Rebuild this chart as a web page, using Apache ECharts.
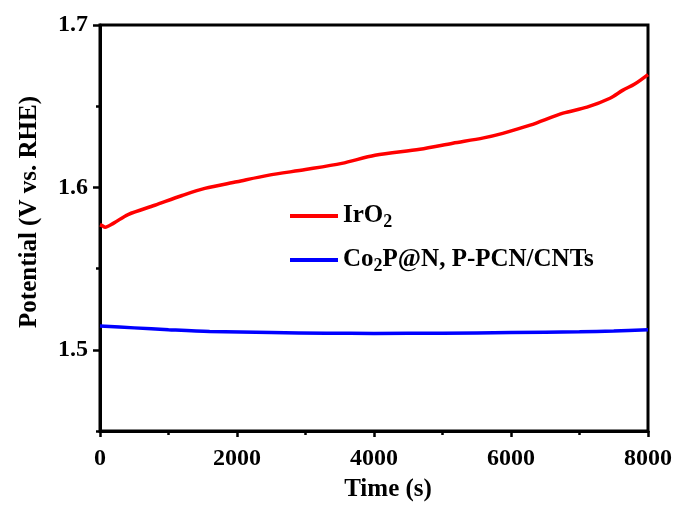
<!DOCTYPE html>
<html>
<head>
<meta charset="utf-8">
<script src="https://cdn.jsdelivr.net/npm/echarts@6/dist/echarts.min.js"></script>
<style>html,body{margin:0;padding:0;background:#fff}#c{width:676px;height:506px}</style>
</head>
<body>
<div id="c"></div>
<script>
var irTime = [0, 30, 75, 200, 410, 800, 1200, 1530, 2000, 2450, 3000, 3530, 4015, 4670, 5150, 5600, 5880, 6280, 6760, 7110, 7445, 7635, 7800, 8000];
var irV = [1.577, 1.5765, 1.5755, 1.578, 1.5833, 1.589, 1.595, 1.5994, 1.6035, 1.6074, 1.611, 1.6148, 1.6198, 1.6235, 1.6272, 1.6305, 1.6333, 1.6383, 1.6457, 1.6494, 1.6549, 1.6599, 1.6635, 1.6695];
var coTime = [0, 500, 1000, 1600, 2500, 3300, 4000, 5000, 6000, 7000, 7500, 8000];
var coV = [1.5146, 1.5135, 1.5124, 1.5113, 1.5106, 1.5102, 1.5101, 1.5102, 1.5106, 1.5111, 1.5116, 1.5123];
var xTicks = [0, 2000, 4000, 6000, 8000];
var yLabels = [1.5, 1.6, 1.7];
var yMinorTicks = [1.45, 1.55, 1.65];

function pairs(a, b) { return a.map(function (v, i) { return [v, b[i]]; }); }

var font = '"Liberation Serif", "Times New Roman", serif';
var chart = echarts.init(document.getElementById('c'));
chart.setOption({
  animation: false,
  grid: { left: 100, right: 28, top: 25, bottom: 75, show: true, borderColor: '#000', borderWidth: 3, outerBoundsMode: 'none', containLabel: false },
  legend: {
    orient: 'vertical', left: 285, top: 196, itemGap: 14,
    icon: 'rect', itemWidth: 48, itemHeight: 4,
    data: ['IrO2', 'Co2P'],
    formatter: function (n) {
      return n === 'IrO2' ? '{b|IrO}{s|2}' : '{b|Co}{s|2}{b|P@N, P-PCN/CNTs}';
    },
    textStyle: {
      fontFamily: font, fontWeight: 'bold', fontSize: 25, color: '#000',
      rich: {
        b: { fontFamily: font, fontWeight: 'bold', fontSize: 25, color: '#000', lineHeight: 29 },
        s: { fontFamily: font, fontWeight: 'bold', fontSize: 18, color: '#000', lineHeight: 29, padding: [12, 0, 0, 0] }
      }
    }
  },
  xAxis: {
    type: 'value', min: 0, max: 8000, interval: 2000,
    name: 'Time (s)', nameLocation: 'middle', nameGap: 46,
    nameTextStyle: { fontFamily: font, fontWeight: 'bold', fontSize: 25, color: '#000', padding: [0, 0, 0, 28] },
    axisLine: { lineStyle: { color: '#000', width: 3 } },
    axisTick: { length: 6, lineStyle: { color: '#000', width: 2.5 } },
    minorTick: { show: true, splitNumber: 2, length: 4, lineStyle: { color: '#000', width: 2.5 } },
    splitLine: { show: false },
    axisLabel: {
      fontFamily: font, fontWeight: 'bold', fontSize: 24, color: '#000', margin: 16,
      customValues: xTicks,
      formatter: function (v) { return String(v); }
    }
  },
  yAxis: [{
    type: 'value', min: 1.45, max: 1.7, interval: 0.05,
    name: 'Potential (V vs. RHE)', nameLocation: 'middle', nameGap: 58,
    nameTextStyle: { fontFamily: font, fontWeight: 'bold', fontSize: 25, color: '#000', padding: [0, 0, 0, 32] },
    axisLine: { lineStyle: { color: '#000', width: 3 } },
    axisTick: { length: 7, customValues: yLabels, lineStyle: { color: '#000', width: 2.5 } },
    splitLine: { show: false },
    axisLabel: {
      fontFamily: font, fontWeight: 'bold', fontSize: 24, color: '#000', margin: 12,
      customValues: yLabels,
      formatter: function (v) { return v.toFixed(1); }
    }
  }, {
    type: 'value', min: 1.45, max: 1.7, interval: 0.05, position: 'left',
    axisLine: { show: false },
    axisTick: { length: 4, customValues: yMinorTicks, lineStyle: { color: '#000', width: 2.5 } },
    axisLabel: { show: false },
    splitLine: { show: false }
  }],
  series: [{
    name: 'IrO2', type: 'line', showSymbol: false, smooth: 0.3,
    data: pairs(irTime, irV),
    lineStyle: { color: '#ff0000', width: 3.5 }, itemStyle: { color: '#ff0000' }
  }, {
    name: 'Co2P', type: 'line', showSymbol: false, smooth: 0.3,
    data: pairs(coTime, coV),
    lineStyle: { color: '#0000ff', width: 3.5 }, itemStyle: { color: '#0000ff' }
  }]
});
</script>
</body>
</html>
